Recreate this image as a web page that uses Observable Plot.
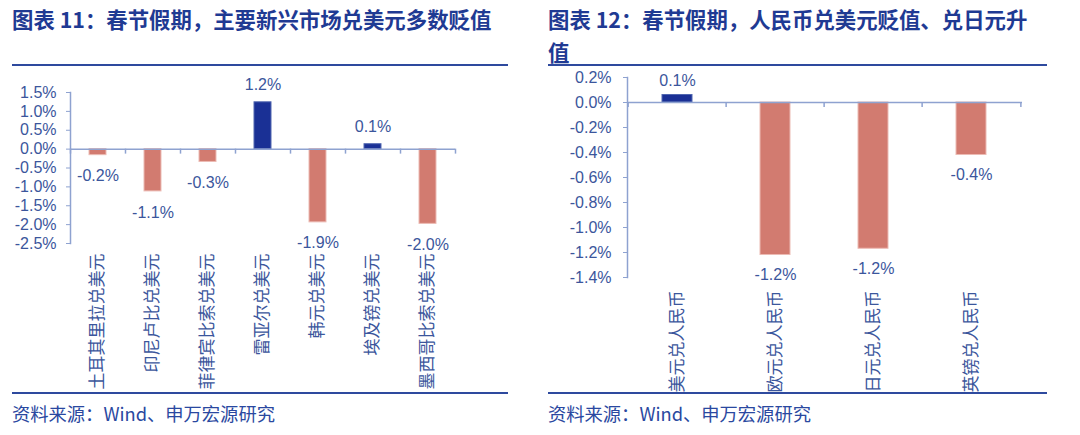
<!DOCTYPE html>
<html>
<head>
<meta charset="utf-8">
<script src="https://cdn.jsdelivr.net/npm/d3@7"></script>
<script src="https://cdn.jsdelivr.net/npm/@observablehq/plot@0.6"></script>
<style>
  html, body { margin: 0; padding: 0; background: #fff; }
  body { width: 1080px; height: 435px; position: relative; overflow: hidden; }
  .title { position: absolute; top: 2px; font-family: "Noto Sans CJK SC", sans-serif; font-weight: 700; font-size: 21.4px; line-height: 33px; color: #1f3a93; }
  .rule { position: absolute; height: 2px; background: #2e4a9e; }
  .source { position: absolute; top: 399px; font-family: "Noto Sans CJK SC", sans-serif; font-size: 18.3px; line-height: 28px; color: #2a48a0; }
  .chart { position: absolute; top: 67px; }
</style>
</head>
<body>
<div class="title" style="left:12px;width:496px;">图表 11：春节假期，主要新兴市场兑美元多数贬值</div>
<div class="rule" style="left:12px;width:496px;top:64px;"></div>
<div class="chart" id="left" style="left:0px;"></div>
<div class="rule" style="left:12px;width:496px;top:392px;"></div>
<div class="source" style="left:12px;">资料来源：Wind、申万宏源研究</div>

<div class="title" style="left:548px;width:488px;">图表 12：春节假期，人民币兑美元贬值、兑日元升值</div>
<div class="rule" style="left:548px;width:499px;top:64px;"></div>
<div class="chart" id="right" style="left:540px;"></div>
<div class="rule" style="left:548px;width:499px;top:392px;"></div>
<div class="source" style="left:548px;">资料来源：Wind、申万宏源研究</div>

<script>
// ---- data ----
const leftCats = ["土耳其里拉兑美元", "印尼卢比兑美元", "菲律宾比索兑美元", "雷亚尔兑美元", "韩元兑美元", "埃及镑兑美元", "墨西哥比索兑美元"];
const leftVals = [-0.16, -1.12, -0.34, 1.24, -1.94, 0.13, -1.98];
const leftTicks = [1.5, 1.0, 0.5, 0.0, -0.5, -1.0, -1.5, -2.0, -2.5];

const rightCats = ["美元兑人民币", "欧元兑人民币", "日元兑人民币", "英镑兑人民币"];
const rightVals = [0.06, -1.22, -1.17, -0.42];
const rightTicks = [0.2, 0.0, -0.2, -0.4, -0.6, -0.8, -1.0, -1.2, -1.4];

const NAVY = "#1a3095";
const SALMON = "#d27b70";
const LABEL = "#3b569c";
const AXIS = "#8ea2d0";
const FONT = "'Liberation Sans', 'Noto Sans CJK SC', sans-serif";

function makeChart(cats, vals, ticks, o) {
  const data = cats.map((c, i) => ({cat: c, value: vals[i]}));
  const W = 540, H = 326;
  const n = cats.length;
  const step = (W - o.ml - o.mr) / n;
  const fmt = d => d.toFixed(1) + "%";
  return Plot.plot({
    width: W,
    height: H,
    marginLeft: o.ml,
    marginRight: o.mr,
    marginTop: o.mt,
    marginBottom: o.mb,
    style: {fontFamily: FONT, fontSize: "16px", color: LABEL, background: "transparent"},
    x: {domain: cats, paddingInner: 0.69, paddingOuter: 0.345, axis: null, label: null},
    y: {domain: o.domain, axis: null, label: null},
    marks: [
      Plot.barY(data, {x: "cat", y: "value", fill: d => d.value >= 0 ? NAVY : SALMON,
        stroke: d => d.value >= 0 ? "#5066b0" : "#ecbbb4", strokeWidth: 1}),
      Plot.ruleY([0], {stroke: AXIS, strokeWidth: 1.5}),
      Plot.frame({anchor: "left", stroke: AXIS, strokeWidth: 1.5}),
      Plot.ruleX(cats, {x: d => d, y1: 0, y2: 0, insetBottom: -5, dx: -step / 2, stroke: AXIS, strokeWidth: 1.5}),
      Plot.ruleX(cats.slice(-1), {x: d => d, y1: 0, y2: 0, insetBottom: -5, dx: step / 2, stroke: AXIS, strokeWidth: 1.5}),
      Plot.axisY({ticks: ticks, tickFormat: fmt, tickSize: 4, tickPadding: o.ypad, stroke: AXIS, fill: LABEL, fontSize: 16, label: null}),
      Plot.axisX({anchor: "bottom", tickSize: 0, tickPadding: o.xpad, tickRotate: -90, label: null,
        textAnchor: "end", lineAnchor: "middle", fill: LABEL, fontSize: 17,
        fontFamily: "'Noto Sans CJK SC', sans-serif"}),
      Plot.text(data.filter(d => d.value >= 0), {x: "cat", y: "value", text: d => fmt(d.value), dy: o.posDy, fill: LABEL, fontSize: 16}),
      Plot.text(data.filter(d => d.value < 0), {x: "cat", y: "value", text: d => fmt(d.value), dy: o.negDy, fill: LABEL, fontSize: 16})
    ]
  });
}

document.getElementById("left").append(makeChart(leftCats, leftVals, leftTicks, {
  ml: 70, mr: 85, mt: 25, mb: 150, domain: [-2.5, 1.5], ypad: 10, xpad: 10, posDy: -17, negDy: 21
}));
document.getElementById("right").append(makeChart(rightCats, rightVals, rightTicks, {
  ml: 87, mr: 58, mt: 10, mb: 116, domain: [-1.4, 0.2], ypad: 12, xpad: 13, posDy: -14, negDy: 20
}));
</script>
</body>
</html>
